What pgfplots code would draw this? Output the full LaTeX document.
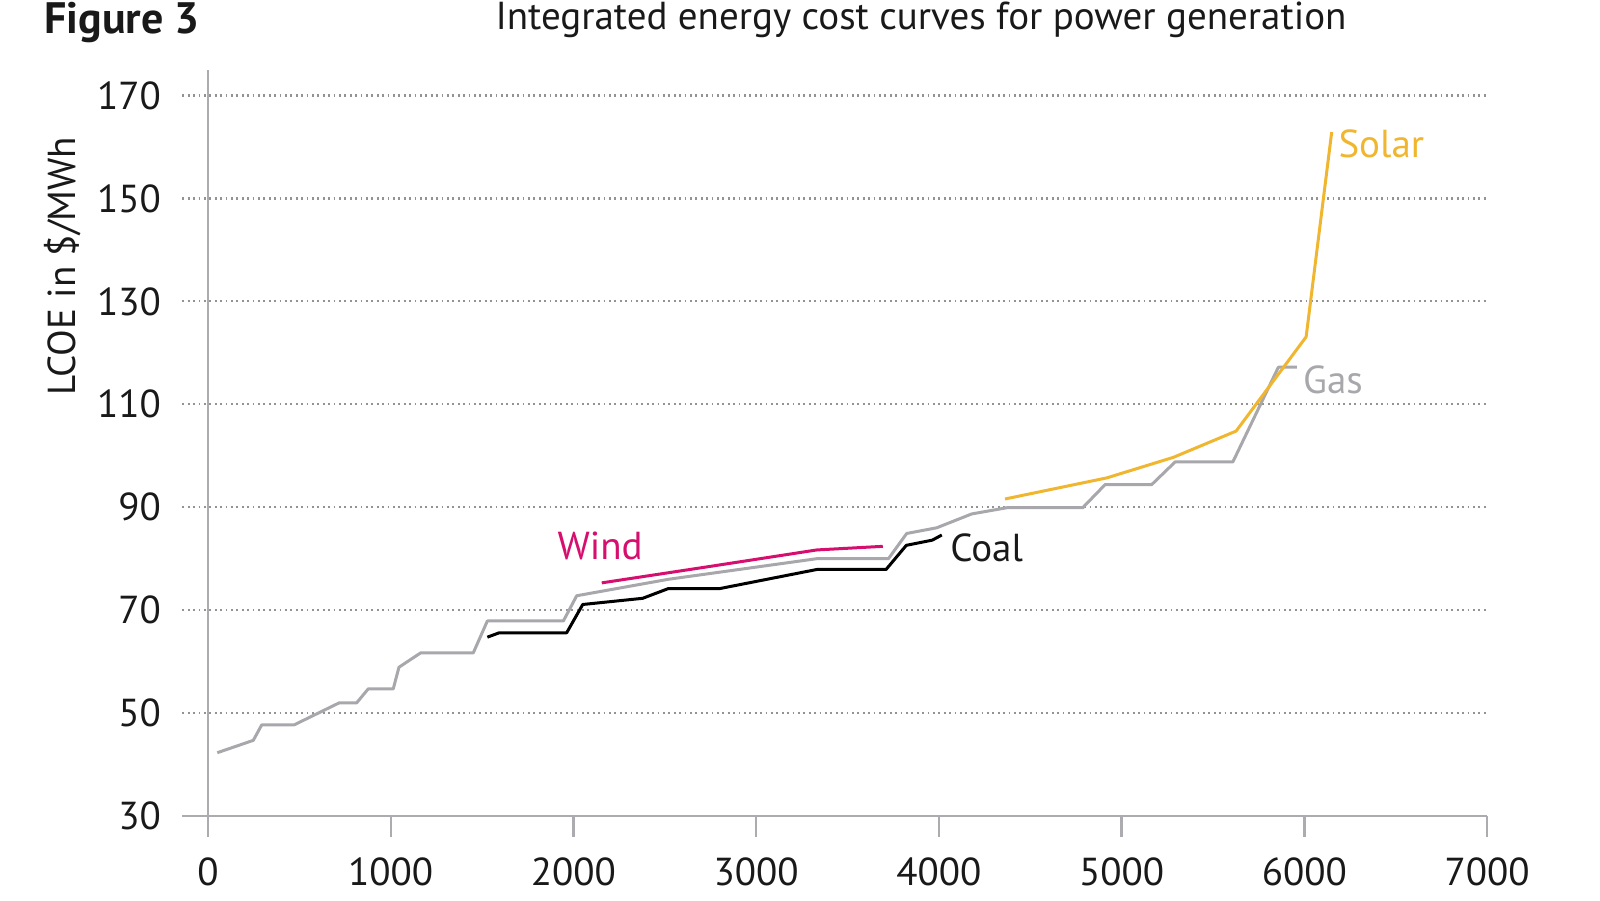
\documentclass[border=0pt]{standalone}
\usepackage{fontspec}
\setmainfont{PT Sans}
\usepackage{pgfplots}
\pgfplotsset{compat=1.18}
\definecolor{gasgray}{RGB}{168,168,172}
\definecolor{axgray}{RGB}{172,172,176}
\definecolor{windc}{RGB}{214,14,110}
\definecolor{solarc}{RGB}{240,182,48}
\definecolor{txt}{RGB}{25,25,25}
\begin{document}
\begin{tikzpicture}
\path[use as bounding box] (0,0) rectangle (800pt,450pt);
\node[anchor=base west, font=\fontsize{22}{25}\selectfont\bfseries, inner sep=0, text=txt] at (22pt,433pt) {Figure 3};
\node[anchor=base, font=\fontsize{19.5}{22}\selectfont, inner sep=0, text=txt] at (460.5pt,435pt) {Integrated energy cost curves for power generation};
\node[rotate=90, font=\fontsize{19.5}{22}\selectfont, inner sep=0, text=txt] at (31.5pt,317pt) {LCOE in \$/MWh};
\begin{axis}[
  at={(91.2pt,42pt)}, anchor=south west,
  scale only axis, width=652.3pt, height=373.1pt,
  xmin=-140, xmax=7000, ymin=30, ymax=175,
  axis lines*=left,
  y axis line style={draw=none},
  x axis line style={draw=axgray, line width=1.2pt},
  xtick={0,1000,...,7000},
  ytick={30,50,...,170},
  tick align=outside,
  major tick length=10.5pt,
  x tick style={draw=axgray, line width=1.2pt},
  y tick style={draw=none},
  ymajorgrids,
  major grid style={draw=gray!85, line width=1.1pt, dash pattern=on 0.9pt off 1.8pt},
  ticklabel style={font=\fontsize{19.5}{22}\selectfont, text=txt, inner sep=0pt},
  xticklabel style={anchor=north, yshift=-10pt},
  yticklabel style={anchor=east},
  /pgf/number format/.cd, 1000 sep={}, assume math mode=true,
]
% y axis line at x = 0
\draw[axgray, line width=1.2pt] (axis cs:0,175) -- (axis cs:0,30);
% Gas
\addplot[gasgray, line width=1.5pt, line join=round] coordinates {
(51,42.3) (248,44.7) (294,47.7) (471,47.7) (719,52.0) (814,52.0) (877,54.7) (1014,54.7)
(1045,58.9) (1164,61.7) (1452,61.7) (1529,67.9) (1945,67.9) (2018,72.8) (2520,76.0)
(3332,80.0) (3724,80.0) (3824,84.9) (3988,86.0) (4180,88.7) (4372,89.9) (4787,89.9)
(4910,94.4) (5165,94.4) (5293,98.8) (5609,98.8) (5858,117.2) (5959,117.2)};
% Coal
\addplot[black, line width=1.5pt, line join=round] coordinates {
(1529,64.75) (1594,65.6) (1963,65.6) (2051,71.1) (2379,72.3) (2520,74.2) (2802,74.2)
(3332,77.9) (3711,77.9) (3822,82.6) (3964,83.6) (4016,84.6)};
% Wind
\addplot[windc, line width=1.5pt, line join=round] coordinates {
(2155,75.3) (2748,78.5) (3332,81.7) (3693,82.4)};
% Solar
\addplot[solarc, line width=1.5pt, line join=round] coordinates {
(4362,91.6) (4919,95.7) (5284,99.7) (5627,104.8) (6010,123.1) (6150,162.9)};
\node[font=\fontsize{19.5}{22}\selectfont, text=windc, inner sep=0] at (axis cs:2146,82.4) {Wind};
\node[font=\fontsize{19.5}{22}\selectfont, text=txt, anchor=west, inner sep=0] at (axis cs:4061,82.2) {Coal};
\node[font=\fontsize{19.5}{22}\selectfont, text=gasgray, anchor=west, inner sep=0] at (axis cs:5992,114.8) {Gas};
\node[font=\fontsize{19.5}{22}\selectfont, text=solarc, anchor=west, inner sep=0] at (axis cs:6185,160.7) {Solar};
\end{axis}
\end{tikzpicture}
\end{document}
